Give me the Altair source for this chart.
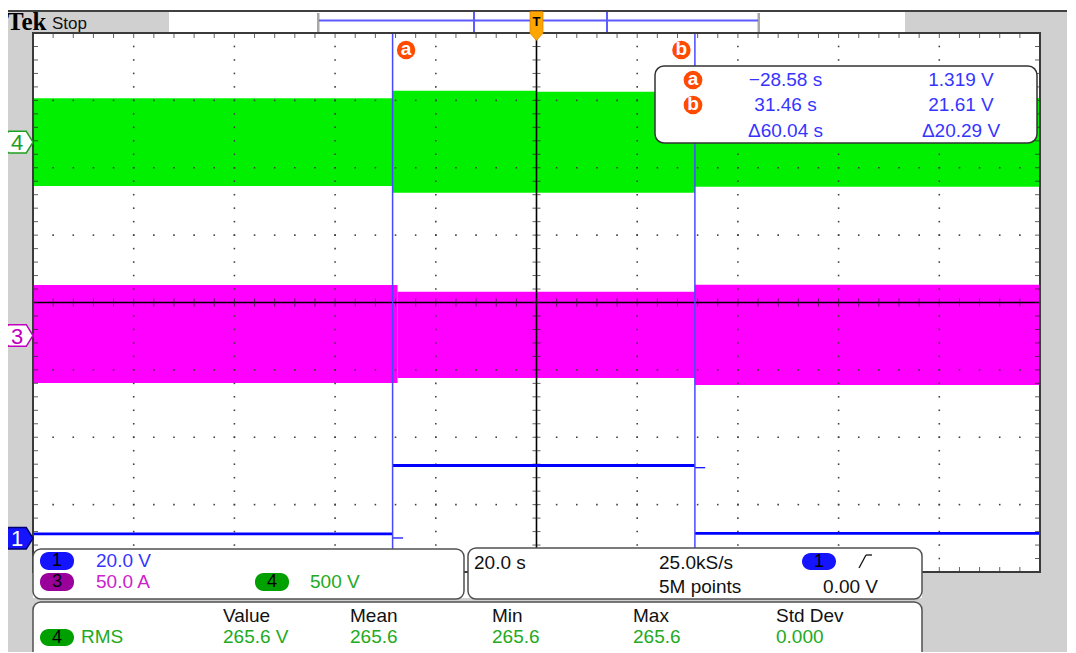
import altair as alt
import pandas as pd
import numpy as np

time_domain = [-100.0, 100.0]      # 20 s/div x 10 divisions
div_domain = [-4.0, 4.0]           # 8 vertical divisions
time_per_div = 20.0

cursor_names = ["a", "b"]
cursor_times = [-28.58, 31.46]     # s
cursor_volts = [1.319, 21.61]      # V (channel 1)

# channel 4 : 500 V/div, ground marker at +2.38 div (envelope of the waveform)
ch4_scale, ch4_pos = 500.0, 2.38
ch4_t0 = [-100.0, -28.58, 0.0, 31.46]
ch4_t1 = [-28.58, 0.0, 31.46, 100.0]
ch4_hi = [325.0, 382.0, 374.0, 328.0]
ch4_lo = [-325.0, -375.0, -375.0, -331.0]

# channel 3 : 50 A/div, ground marker at -0.49 div
ch3_scale, ch3_pos = 50.0, -0.49
ch3_t0 = [-100.0, -27.6, 31.46]
ch3_t1 = [-27.6, 31.46, 100.0]
ch3_hi = [37.5, 32.5, 37.7]
ch3_lo = [-35.3, -31.5, -36.7]

# channel 1 : 20 V/div, ground marker at -3.50 div
ch1_scale, ch1_pos = 20.0, -3.50
ch1_main_seg = [0, 0, 1, 1, 2, 2]
ch1_main_t = [-100.0, -28.58, -28.58, 31.46, 31.46, 100.0]
ch1_main_v = [1.32, 1.32, 21.61, 21.61, 1.45, 1.45]
ch1_tail_seg = [0, 0, 1, 1]
ch1_tail_t = [-28.58, -26.5, 31.46, 33.5]
ch1_tail_v = [0.1, 0.1, 20.96, 20.96]

tag_labels = ["4", "3", "1"]
tag_pos = [ch4_pos, ch3_pos, ch1_pos]

ch_scale_labels = ["20.0 V", "50.0 A", "500 V"]
timebase_label = "20.0 s"
sample_rate_label = "25.0kS/s"
record_label = "5M points"
trigger_level_label = "0.00 V"
meas_source = "RMS"
meas_headers = ["Value", "Mean", "Min", "Max", "Std Dev"]
meas_values = ["265.6 V", "265.6", "265.6", "265.6", "0.000"]

# ------------------------------------------------------------------ style
W, H = 1007, 539
GRAY = "#d0d0d0"
GREEN = "#00f000"
MAGENTA = "#ff00ff"
BLUE = "#0000ff"
CURSOR = "#4848ff"
ORANGE = "#ff4a00"
TXT_BLUE = "#3535ff"
TXT_GREEN = "#22aa22"
TXT_MAG = "#cc22cc"
FONT = "Liberation Sans"

xs = alt.Scale(domain=time_domain, nice=False, zero=False)
ys = alt.Scale(domain=div_domain, nice=False, zero=False)


def X(f):
    return alt.X(f"{f}:Q", scale=xs, axis=None)


def Y(f):
    return alt.Y(f"{f}:Q", scale=ys, axis=None)


def PX(f):
    return alt.X(f"{f}:Q", scale=None, axis=None)


def PY(f):
    return alt.Y(f"{f}:Q", scale=None, axis=None)


one = pd.DataFrame({"k": [0]})
layers = []

# ---------------- screen chrome backgrounds
bg = pd.DataFrame({
    "px": [-33, 872, -33, 1007, 889, 0],
    "px2": [136, 1043, 0, 1043, 1007, 889],
    "py": [-21, -21, -21, -21, 539, 565],
    "py2": [0, 0, 640, 640, 640, 640],
})
layers.append(alt.Chart(bg).mark_rect(color=GRAY).encode(
    x=PX("px"), x2="px2", y=PY("py"), y2="py2"))
layers.append(alt.Chart(one).mark_rule(color="#000", strokeWidth=1.5).encode(
    x=alt.value(-33), x2=alt.value(1043), y=alt.value(-22)))

# ---------------- waveforms (envelopes)
ch4_df = pd.DataFrame({
    "t": ch4_t0, "t2": ch4_t1,
    "top": [ch4_pos + v / ch4_scale for v in ch4_hi],
    "bot": [ch4_pos + v / ch4_scale for v in ch4_lo],
})
layers.append(alt.Chart(ch4_df).mark_rect(color=GREEN).encode(
    x=X("t"), x2="t2", y=Y("top"), y2="bot"))
ch3_df = pd.DataFrame({
    "t": ch3_t0, "t2": ch3_t1,
    "top": [ch3_pos + v / ch3_scale for v in ch3_hi],
    "bot": [ch3_pos + v / ch3_scale for v in ch3_lo],
})
layers.append(alt.Chart(ch3_df).mark_rect(color=MAGENTA).encode(
    x=X("t"), x2="t2", y=Y("top"), y2="bot"))

# ---------------- graticule
sub_y = np.round(np.arange(-4 + 0.2, 4 - 0.1, 0.2), 3)
sub_t = np.round(np.arange(-100 + 4, 100 - 1, 4.0), 3)
vlines = [t for t in np.arange(-80, 81, time_per_div) if t != 0]
hlines = [d for d in range(-3, 4) if d != 0]
dots = [(t, y) for t in vlines for y in sub_y] + [(t, d) for d in hlines for t in sub_t]
dots_df = pd.DataFrame(dots, columns=["t", "y"])
layers.append(alt.Chart(dots_df).mark_square(size=2.5, color="#404040", opacity=1).encode(
    x=X("t"), y=Y("y")))

center_df = pd.DataFrame({"t": [0.0], "y": [0.0]})
layers.append(alt.Chart(center_df).mark_rule(color="#000", strokeWidth=1.6).encode(
    x=X("t"), y=alt.value(0), y2=alt.value(H)))
layers.append(alt.Chart(center_df).mark_rule(color="#000", strokeWidth=1.6).encode(
    y=Y("y"), x=alt.value(0), x2=alt.value(W)))
layers.append(alt.Chart(pd.DataFrame({"y": sub_y, "t": 0.0})).mark_tick(
    orient="horizontal", size=8, thickness=1, color="#202020").encode(x=X("t"), y=Y("y")))
layers.append(alt.Chart(pd.DataFrame({"t": sub_t, "y": 0.0})).mark_tick(
    orient="vertical", size=8, thickness=1, color="#202020").encode(x=X("t"), y=Y("y")))
# border ticks
layers.append(alt.Chart(pd.DataFrame({"y": sub_y, "t": -100.0})).mark_tick(
    orient="horizontal", size=5, thickness=1, color="#202020", xOffset=2.5).encode(x=X("t"), y=Y("y")))
layers.append(alt.Chart(pd.DataFrame({"y": sub_y, "t": 100.0})).mark_tick(
    orient="horizontal", size=5, thickness=1, color="#202020", xOffset=-2.5).encode(x=X("t"), y=Y("y")))
layers.append(alt.Chart(pd.DataFrame({"t": sub_t, "y": 4.0})).mark_tick(
    orient="vertical", size=5, thickness=1, color="#202020", yOffset=2.5).encode(x=X("t"), y=Y("y")))
layers.append(alt.Chart(pd.DataFrame({"t": sub_t, "y": -4.0})).mark_tick(
    orient="vertical", size=5, thickness=1, color="#202020", yOffset=-2.5).encode(x=X("t"), y=Y("y")))

# ---------------- channel 1 trace
ch1_main = pd.DataFrame({"seg": ch1_main_seg, "t": ch1_main_t,
                         "d": [ch1_pos + v / ch1_scale for v in ch1_main_v]})
ch1_tail = pd.DataFrame({"seg": ch1_tail_seg, "t": ch1_tail_t,
                         "d": [ch1_pos + v / ch1_scale for v in ch1_tail_v]})
layers.append(alt.Chart(ch1_main).mark_line(color=BLUE, strokeWidth=2.8).encode(
    x=X("t"), y=Y("d"), detail="seg:N"))
layers.append(alt.Chart(ch1_tail).mark_line(color=BLUE, strokeWidth=1.2).encode(
    x=X("t"), y=Y("d"), detail="seg:N"))

# ---------------- cursors
cur_df = pd.DataFrame({"name": cursor_names, "t": cursor_times})
layers.append(alt.Chart(cur_df).mark_rule(color=CURSOR, strokeWidth=1.5).encode(
    x=X("t"), y=alt.value(0), y2=alt.value(H)))

# graticule border
layers.append(alt.Chart(pd.DataFrame({"t": [time_domain[0]], "t2": [time_domain[1]],
                                      "y": [div_domain[1]], "y2": [div_domain[0]]}))
              .mark_rect(fillOpacity=0, stroke="#3a3a3a", strokeWidth=2).encode(
    x=X("t"), x2="t2", y=Y("y"), y2="y2"))

# ---------------- top status bar
layers.append(alt.Chart(one).mark_text(text="Tek", font="Liberation Serif", fontWeight="bold",
                                       fontSize=25, align="left", baseline="alphabetic", color="#000").encode(
    x=alt.value(-26), y=alt.value(-3)))
layers.append(alt.Chart(one).mark_text(text="Stop", font=FONT, fontSize=17, align="left",
                                       baseline="alphabetic", color="#111").encode(
    x=alt.value(19), y=alt.value(-4)))
rv = pd.DataFrame({"px": [284, 724.5], "px2": [286.5, 727], "py": [-20, -20], "py2": [-1, -1]})
layers.append(alt.Chart(rv).mark_rect(color="#a8a8a8").encode(x=PX("px"), x2="px2", y=PY("py"), y2="py2"))
layers.append(alt.Chart(one).mark_rule(color="#5c5cff", strokeWidth=2).encode(
    x=alt.value(286), x2=alt.value(725), y=alt.value(-12.5)))
rvt = pd.DataFrame({"px": [441, 574]})
layers.append(alt.Chart(rvt).mark_rule(color="#5c5cff", strokeWidth=2).encode(
    x=PX("px"), y=alt.value(-21), y2=alt.value(-1)))
trig = pd.DataFrame({"t": [0.0]})
layers.append(alt.Chart(trig).mark_point(
    shape="M-0.45,-1L0.45,-1L0.45,0.5L0,1L-0.45,0.5Z", size=841, filled=True,
    fill="#ffa500", stroke="#c87800", strokeWidth=0.6, opacity=1).encode(
    x=X("t"), y=alt.value(-7)))
layers.append(alt.Chart(trig).mark_text(text="T", font=FONT, fontWeight="bold", fontSize=13,
                                        color="#000", baseline="middle").encode(
    x=X("t"), y=alt.value(-11)))

# ---------------- cursor labels on the graticule
for name, t, off in zip(cursor_names, cursor_times, [13.5, -13.5]):
    d = pd.DataFrame({"t": [t]})
    layers.append(alt.Chart(d).mark_circle(size=340, color=ORANGE, opacity=1, xOffset=off).encode(
        x=X("t"), y=alt.value(17)))
    layers.append(alt.Chart(d).mark_text(text=name, font=FONT, fontWeight="bold", fontSize=19,
                                         color="#fff", baseline="middle", xOffset=off, dy=-1).encode(
        x=X("t"), y=alt.value(17)))

# ---------------- cursor readout box
layers.append(alt.Chart(one).mark_rect(fill="#fff", stroke="#333", strokeWidth=1.5, cornerRadius=9).encode(
    x=alt.value(622), x2=alt.value(1004), y=alt.value(33), y2=alt.value(110)))
ro_circ = pd.DataFrame({"name": cursor_names, "py": [47, 72]})
layers.append(alt.Chart(ro_circ).mark_circle(size=350, color=ORANGE, opacity=1).encode(
    x=alt.value(660), y=PY("py")))
layers.append(alt.Chart(ro_circ).mark_text(font=FONT, fontWeight="bold", fontSize=19, color="#fff",
                                           baseline="middle", dy=-1).encode(
    x=alt.value(660), y=PY("py"), text="name:N"))


def fmt(v, unit, delta=False):
    s = f"{v:.2f}" if unit == "s" or abs(v) >= 10 else f"{v:.3f}"
    s = s.replace("-", "\u2212")
    return ("\u0394" if delta else "") + s + " " + unit


dt = cursor_times[1] - cursor_times[0]
dv = cursor_volts[1] - cursor_volts[0]
ro_txt = pd.DataFrame({
    "px": [752.5, 752.5, 752.5, 928, 928, 928],
    "py": [47, 72, 98, 47, 72, 98],
    "text": [fmt(cursor_times[0], "s"), fmt(cursor_times[1], "s"), fmt(dt, "s", True),
             fmt(cursor_volts[0], "V"), fmt(cursor_volts[1], "V"), fmt(dv, "V", True)],
})
layers.append(alt.Chart(ro_txt).mark_text(font=FONT, fontSize=19, color=TXT_BLUE, baseline="middle").encode(
    x=PX("px"), y=PY("py"), text="text:N"))

# ---------------- channel ground tags
tags = pd.DataFrame({
    "label": tag_labels, "pos": tag_pos,
    "fill": ["#ffffff", "#ffffff", "#1414ff"],
    "stroke": ["#20a020", "#c000c0", "#000070"],
    "tc": ["#20a020", "#c000c0", "#ffffff"],
})
layers.append(alt.Chart(tags).mark_point(
    shape="M-1,-0.6L-0.8,-0.8L0.5,-0.8L1,0L0.5,0.8L-0.8,0.8L-1,0.6Z",
    size=729, filled=True, strokeWidth=1.5, opacity=1).encode(
    x=alt.value(-13.5), y=Y("pos"),
    fill=alt.Fill("fill:N", scale=None), stroke=alt.Stroke("stroke:N", scale=None)))
layers.append(alt.Chart(tags).mark_text(font=FONT, fontSize=22, baseline="middle", dy=1).encode(
    x=alt.value(-16), y=Y("pos"), text="label:N", color=alt.Color("tc:N", scale=None)))

# ---------------- bottom panels
panels = pd.DataFrame({"px": [0, 435, 0], "px2": [431, 889, 889],
                       "py": [516, 515, 569], "py2": [566, 566, 630]})
layers.append(alt.Chart(panels).mark_rect(fill="#fff", stroke="#505050", strokeWidth=1.5, cornerRadius=8).encode(
    x=PX("px"), x2="px2", y=PY("py"), y2="py2"))
pills = pd.DataFrame({
    "px": [7, 7, 222, 769, 7], "px2": [41, 41, 256, 803, 41],
    "py": [519, 540, 540, 520, 596], "py2": [537, 558, 558, 537, 613],
    "fill": ["#1414ff", "#9a009a", "#00a000", "#1414ff", "#00a000"],
    "label": ["1", "3", "4", "1", "4"],
})
pills["cx"] = (pills.px + pills.px2) / 2
pills["cy"] = (pills.py + pills.py2) / 2
layers.append(alt.Chart(pills).mark_rect(cornerRadius=8.5).encode(
    x=PX("px"), x2="px2", y=PY("py"), y2="py2", fill=alt.Fill("fill:N", scale=None)))
layers.append(alt.Chart(pills).mark_text(font=FONT, fontSize=18, color="#000", baseline="middle").encode(
    x=PX("cx"), y=PY("cy"), text="label:N"))

left_txt = pd.DataFrame({
    "px": [63, 63, 277, 441, 626, 626, 48, 190, 317, 459, 600, 743, 190, 317, 459, 600, 743],
    "py": [528, 549, 549, 530, 530, 554, 604, 583, 583, 583, 583, 583, 604, 604, 604, 604, 604],
    "text": [ch_scale_labels[0], ch_scale_labels[1], ch_scale_labels[2],
             timebase_label, sample_rate_label, record_label, meas_source]
            + meas_headers + meas_values,
    "color": [TXT_BLUE, TXT_MAG, TXT_GREEN, "#111", "#111", "#111", TXT_GREEN]
             + ["#111"] * 5 + [TXT_GREEN] * 5,
})
layers.append(alt.Chart(left_txt).mark_text(font=FONT, fontSize=19, align="left", baseline="middle").encode(
    x=PX("px"), y=PY("py"), text="text:N", color=alt.Color("color:N", scale=None)))
layers.append(alt.Chart(one).mark_text(text=trigger_level_label, font=FONT, fontSize=19, align="right",
                                       baseline="middle", color="#111").encode(
    x=alt.value(845), y=alt.value(554)))
# rising-edge trigger slope symbol
slope = pd.DataFrame({"px": [826, 833], "px2": [833, 839], "py": [535, 522], "py2": [522, 522]})
layers.append(alt.Chart(slope).mark_rule(color="#111", strokeWidth=1.3).encode(
    x=PX("px"), x2="px2", y=PY("py"), y2="py2"))

chart = alt.layer(*layers).properties(
    width=W, height=H,
    autosize=alt.AutoSizeParams(type="none"),
    padding={"left": 25, "top": 25, "right": 27, "bottom": 80},
).configure_view(strokeWidth=0).configure(background="#ffffff")

chart.save("out.html", embed_options={"renderer": "svg", "actions": False})
